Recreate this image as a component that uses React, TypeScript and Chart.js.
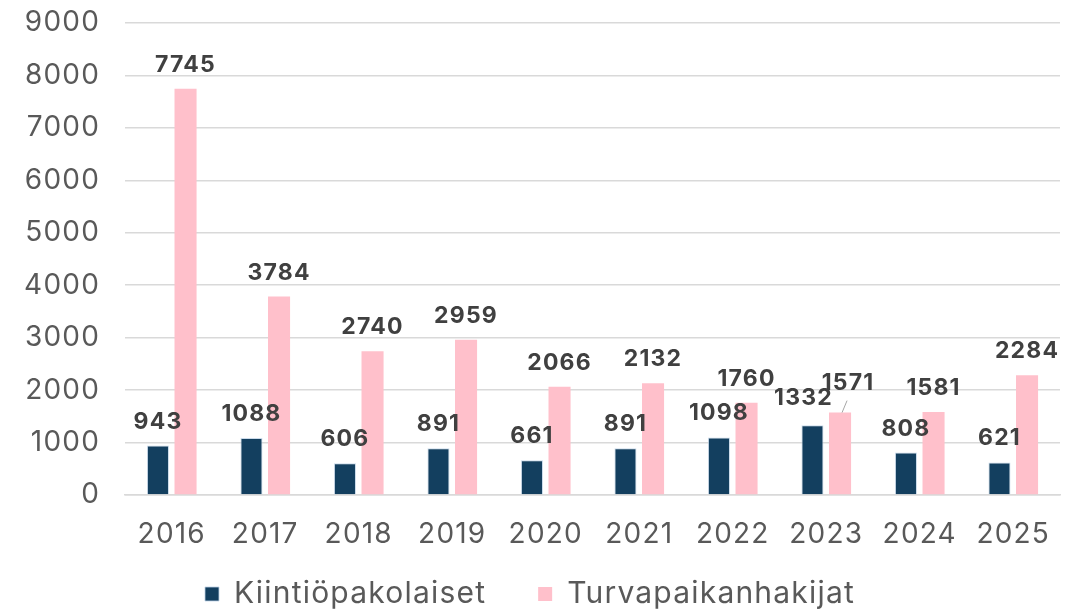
import React, { useEffect, useRef } from "react";
import { Chart, registerables } from "chart.js";

Chart.register(...registerables);

const years = ["2016", "2017", "2018", "2019", "2020", "2021", "2022", "2023", "2024", "2025"];
const kiintiopakolaiset = [943, 1088, 606, 891, 661, 891, 1098, 1332, 808, 621];
const turvapaikanhakijat = [7745, 3784, 2740, 2959, 2066, 2132, 1760, 1571, 1581, 2284];
const seriesNames = ["Kiintiöpakolaiset", "Turvapaikanhakijat"];

const FONT = "Inter, 'Libre Franklin', 'DejaVu Sans', sans-serif";

const spacingPlugin = {
  id: "spacing",
  beforeUpdate(chart: any) { chart.ctx.letterSpacing = "1.2px"; },
  beforeLayout(chart: any) { chart.ctx.letterSpacing = "1.2px"; },
  beforeDraw(chart: any) { chart.ctx.letterSpacing = "1.2px"; },
};

const labelPlugin = {
  id: "valueLabels",
  afterDatasetsDraw(chart: any) {
    const ctx = chart.ctx;
    ctx.save();
    ctx.font = `bold 23px ${FONT}`;
    ctx.fillStyle = "#404040";
    ctx.textAlign = "center";
    ctx.textBaseline = "alphabetic";
    chart.data.datasets.forEach((ds: any, di: number) => {
      const meta = chart.getDatasetMeta(di);
      meta.data.forEach((bar: any, i: number) => {
        let dx = 0;
        let dy = -17;
        if (i === 7 && di === 0) { dx = -9; dy = -20; }
        if (i === 7 && di === 1) {
          dx = 8; dy = -23;
          ctx.save();
          ctx.strokeStyle = "#A6A6A6";
          ctx.lineWidth = 1;
          ctx.beginPath();
          ctx.moveTo(bar.x + 2, bar.y);
          ctx.lineTo(bar.x + 7, bar.y - 12);
          ctx.stroke();
          ctx.restore();
        }
        ctx.fillText(String(ds.data[i]), bar.x + dx, bar.y + dy);
      });
    });
    ctx.restore();
  },
};

export default function App() {
  const ref = useRef<HTMLCanvasElement>(null);
  useEffect(() => {
    if (!ref.current) return;
    const chart = new Chart(ref.current, {
      type: "bar",
      data: {
        labels: years,
        datasets: [
          {
            label: seriesNames[0],
            data: kiintiopakolaiset,
            backgroundColor: "#133F5F",
            borderColor: "rgba(190,210,230,0.8)",
            borderWidth: 1,
            categoryPercentage: 0.59,
            barPercentage: 0.8,
          },
          {
            label: seriesNames[1],
            data: turvapaikanhakijat,
            backgroundColor: "#FFC0CB",
            borderWidth: 0,
            categoryPercentage: 0.59,
            barPercentage: 0.8,
          },
        ],
      },
      options: {
        animation: false,
        responsive: false,
        layout: { autoPadding: false, padding: { top: 23, right: 18, left: 0, bottom: -9 } },
        plugins: {
          tooltip: { enabled: false },
          legend: {
            position: "bottom",
            labels: {
              font: { family: FONT, size: 30 },
              color: "#595959",
              boxWidth: 14,
              boxHeight: 14,
              padding: 52,
            },
          },
        },
        scales: {
          x: {
            grid: { display: false },
            border: { display: true, color: "#D9D9D9", width: 1.5 },
            ticks: { font: { family: FONT, size: 28 }, color: "#595959", padding: 15 },
            afterFit: (s: any) => {
              s.height = 32;
              s._computeLabelArea = () => undefined;
            },
          },
          y: {
            min: 0,
            max: 9000,
            ticks: {
              stepSize: 1000,
              font: { family: FONT, size: 28 },
              color: "#595959",
              padding: 25,
              callback: (v: any) => String(v),
            },
            grid: { color: "#D9D9D9", lineWidth: 1.5, drawTicks: false },
            border: { display: false },
            afterFit: (s: any) => {
              s.width = 125;
              s.paddingTop = 0;
              s.paddingBottom = 0;
            },
          },
        },
      },
      plugins: [spacingPlugin, labelPlugin],
    });
    return () => chart.destroy();
  }, []);
  return (
    <div style={{ position: "fixed", left: 0, top: 0, width: 1078, height: 610, background: "#fff" }}>
      <canvas ref={ref} width={1078} height={610} style={{ display: "block", width: 1078, height: 610 }} />
    </div>
  );
}
